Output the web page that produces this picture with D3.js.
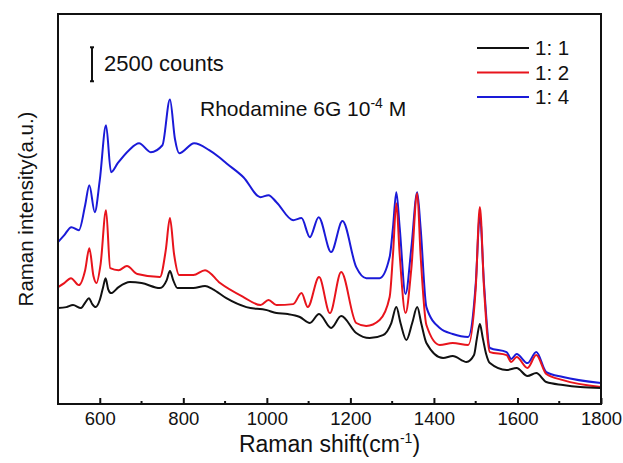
<!DOCTYPE html>
<html>
<head>
<meta charset="utf-8">
<script src="https://cdn.jsdelivr.net/npm/d3@7"></script>
<style>
  body { margin: 0; background: #fff; }
  text { font-family: Arial, "Liberation Sans", sans-serif; fill: #111; }
</style>
</head>
<body>
<div id="chart"></div>
<script>
(function() {

    // [Raman shift (cm-1), counts]
    var ratio11 = [[500,7060],[520,7130],[536,7280],[555,7060],[566,7500],[574,7790],[582,7350],[590,7130],[600,7650],[608,8600],[614,9260],[620,8460],[627,8160],[645,8600],[672,8970],[700,8900],[744,8530],[760,9100],[768,9780],[776,9100],[786,8530],[824,8530],[852,8680],[870,8460],[903,7790],[951,7130],[1000,6910],[1023,6690],[1050,6620],[1079,6400],[1103,5960],[1125,6620],[1154,5590],[1178,6470],[1214,5220],[1246,4850],[1278,5070],[1298,5960],[1310,7130],[1320,5960],[1334,4710],[1348,5960],[1360,7130],[1370,5880],[1382,4490],[1422,3380],[1445,3530],[1478,3090],[1496,3600],[1503,4850],[1510,5880],[1517,4850],[1525,3680],[1534,3010],[1574,2500],[1598,2650],[1624,2060],[1645,2280],[1669,1620],[1709,1400],[1750,1250],[1800,1180]];

    var ratio12 = [[500,8600],[515,8900],[531,9260],[550,8750],[565,9850],[575,11470],[585,9400],[592,8900],[602,10300],[615,14260],[625,10000],[645,9850],[665,10150],[690,9560],[744,9340],[758,11320],[768,13680],[778,11000],[790,9490],[824,9490],[852,9850],[888,8900],[944,7870],[985,7280],[1004,7650],[1023,7280],[1063,7350],[1083,8160],[1098,7130],[1125,9340],[1151,6690],[1178,9710],[1214,5960],[1238,5740],[1270,6180],[1294,7870],[1302,11000],[1310,14780],[1318,11000],[1332,6690],[1346,10000],[1360,15510],[1368,11000],[1382,5810],[1414,4340],[1445,4490],[1482,4340],[1500,8500],[1510,14490],[1520,8500],[1534,3820],[1574,3600],[1585,3090],[1598,3460],[1624,2650],[1645,3600],[1669,2210],[1709,1760],[1800,1250]];

    var ratio14 = [[500,11910],[515,12430],[532,13010],[550,12790],[565,14630],[575,16100],[588,14120],[600,16470],[615,20510],[627,17060],[643,17720],[670,18680],[694,19190],[722,18530],[750,19040],[768,22410],[780,19500],[790,18460],[826,19190],[862,18680],[886,18160],[903,17720],[944,16690],[985,15220],[1004,15370],[1023,14850],[1063,13530],[1083,13680],[1103,12280],[1124,13750],[1154,11180],[1181,13460],[1214,10070],[1238,9260],[1270,9260],[1294,10810],[1302,13000],[1310,15590],[1318,13000],[1332,8090],[1346,11500],[1360,15590],[1368,13000],[1382,7130],[1414,5590],[1445,5150],[1482,4930],[1500,8800],[1510,13900],[1520,8800],[1534,4120],[1574,3820],[1585,3310],[1598,3680],[1624,3010],[1645,3820],[1669,2350],[1709,1990],[1800,1540]];

    var seriesNames = ["1: 1", "1: 2", "1: 4"];
    var seriesColors = ["#111111", "#e8141c", "#1a1ad8"];
    var xTicks = [600, 800, 1000, 1200, 1400, 1600, 1800];
    var xMinorTicks = [700, 900, 1100, 1300, 1500, 1700];

    var width = 623,
        height = 463;

    var left = 58, right = 601, top = 14, bottom = 404;

    var svg = d3.select("#chart")
        .append("svg")
        .attr("width", width)
        .attr("height", height);

    var x = d3.scaleLinear().domain([500, 1800]).range([left, right]);
    // 2500 counts spans about 34 px
    var y = d3.scaleLinear().domain([0, 28700]).range([bottom, top]);

    var line = d3.line()
        .x(function(d) { return x(d[0]); })
        .y(function(d) { return y(d[1]); })
        .curve(d3.curveMonotoneX);

    var allSeries = [ratio11, ratio12, ratio14];

    svg.append("clipPath").attr("id", "clip")
        .append("rect")
        .attr("x", left).attr("y", top)
        .attr("width", right - left).attr("height", bottom - top);

    // draw 1:4 first so black/red stay visible on top as in the figure
    svg.append("g").attr("clip-path", "url(#clip)")
        .selectAll("path")
        .data([2, 1, 0])
        .enter().append("path")
        .attr("d", function(i) { return line(allSeries[i]); })
        .attr("fill", "none")
        .attr("stroke", function(i) { return seriesColors[i]; })
        .attr("stroke-width", 2)
        .attr("stroke-linejoin", "round");

    // frame
    svg.append("rect")
        .attr("x", left).attr("y", top)
        .attr("width", right - left).attr("height", bottom - top)
        .attr("fill", "none")
        .attr("stroke", "#111")
        .attr("stroke-width", 2);

    // bottom axis, ticks pointing inward
    var xAxis = d3.axisBottom(x)
        .tickValues(xTicks)
        .tickSize(-6)
        .tickPadding(0)
        .tickFormat(d3.format("d"));

    var gx = svg.append("g")
        .attr("transform", "translate(0," + bottom + ")")
        .call(xAxis);
    gx.select(".domain").remove();
    gx.selectAll("line").attr("stroke", "#111").attr("stroke-width", 2);
    gx.selectAll("text")
        .attr("y", 21)
        .attr("dy", null)
        .style("font-family", "Arial, 'Liberation Sans', sans-serif")
        .style("font-size", "18.5px")
        .attr("fill", "#111");

    svg.append("g").selectAll("line")
        .data(xMinorTicks)
        .enter().append("line")
        .attr("x1", function(d) { return x(d); })
        .attr("x2", function(d) { return x(d); })
        .attr("y1", bottom)
        .attr("y2", bottom - 3)
        .attr("stroke", "#111")
        .attr("stroke-width", 2);

    // axis titles
    var xt = svg.append("text")
        .attr("x", (left + right) / 2)
        .attr("y", 452)
        .attr("text-anchor", "middle")
        .style("font-size", "23px");
    xt.append("tspan").text("Raman shift(cm");
    xt.append("tspan").attr("dy", -9).style("font-size", "14px").text("-1");
    xt.append("tspan").attr("dy", 9).text(")");

    svg.append("text")
        .attr("transform", "translate(33," + ((top + bottom) / 2) + ") rotate(-90)")
        .attr("text-anchor", "middle")
        .style("font-size", "20.5px")
        .text("Raman intensity(a.u.)");

    // 2500 counts scale bar (I-beam)
    var barLo = y(23750), barHi = y(23750 + 2500);
    var bar = svg.append("g").attr("stroke", "#111").attr("stroke-width", 2);
    bar.append("line")
        .attr("x1", 92).attr("x2", 92)
        .attr("y1", barLo).attr("y2", barHi);
    bar.append("line")
        .attr("x1", 90).attr("x2", 94)
        .attr("y1", barLo).attr("y2", barLo);
    bar.append("line")
        .attr("x1", 90).attr("x2", 94)
        .attr("y1", barHi).attr("y2", barHi);
    svg.append("text")
        .attr("x", 104).attr("y", 71)
        .style("font-size", "22px")
        .text("2500 counts");

    var rt = svg.append("text")
        .attr("x", 200).attr("y", 116)
        .style("font-size", "21px");
    rt.append("tspan").text("Rhodamine 6G 10");
    rt.append("tspan").attr("dy", -8).style("font-size", "14px").text("-4");
    rt.append("tspan").attr("dy", 8).text(" M");

    // legend
    var legend = svg.append("g").selectAll("g")
        .data(seriesNames)
        .enter().append("g")
        .attr("transform", function(d, i) { return "translate(477," + (48 + i * 24.5) + ")"; });
    legend.append("line")
        .attr("x1", 0).attr("x2", 52)
        .attr("stroke", function(d, i) { return seriesColors[i]; })
        .attr("stroke-width", 2);
    legend.append("text")
        .attr("x", 58).attr("y", 7)
        .style("font-size", "20.5px")
        .text(function(d) { return d; });

})();
</script>
</body>
</html>
